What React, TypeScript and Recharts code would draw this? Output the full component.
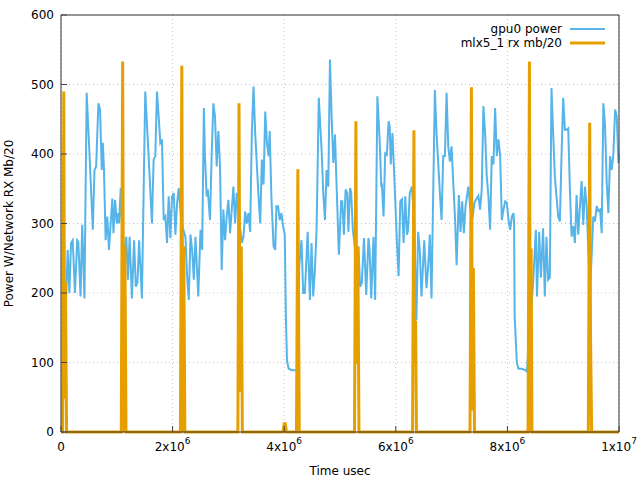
import React from 'react';
import { LineChart, Line, XAxis, YAxis, CartesianGrid, Legend } from 'recharts';

const FONT = '"DejaVu Sans", sans-serif';
const BLUE = '#56b4e9';
const ORANGE = '#e69f00';

// sample times are in units of 1e6 usec
const gpuTime = [
  0.00, 0.05, 0.12, 0.15, 0.18, 0.21, 0.25, 0.29, 0.31, 0.35, 0.38, 0.42, 0.46, 0.51, 0.57, 0.60,
  0.63, 0.67, 0.70, 0.73, 0.75, 0.77, 0.80, 0.83, 0.86, 0.89, 0.92, 0.94, 0.97, 1.00, 1.02, 1.04,
  1.07, 1.08, 1.12, 1.17, 1.20, 1.23, 1.27, 1.31, 1.34, 1.37, 1.40, 1.45, 1.51, 1.57, 1.63, 1.66,
  1.69, 1.72, 1.75, 1.78, 1.81, 1.84, 1.87, 1.90, 1.93, 1.96, 1.99, 2.02, 2.05, 2.08, 2.11, 2.16,
  2.23, 2.26, 2.29, 2.32, 2.35, 2.38, 2.41, 2.46, 2.50, 2.53, 2.56, 2.58, 2.61, 2.63, 2.67, 2.70,
  2.73, 2.76, 2.79, 2.82, 2.85, 2.88, 2.91, 2.94, 2.97, 3.00, 3.03, 3.06, 3.09, 3.12, 3.15, 3.20,
  3.24, 3.27, 3.30, 3.33, 3.36, 3.39, 3.42, 3.45, 3.48, 3.54, 3.57, 3.60, 3.63, 3.66, 3.69, 3.72,
  3.74, 3.77, 3.81, 3.84, 3.86, 3.89, 3.92, 3.95, 3.98, 4.01, 4.03, 4.05, 4.08, 4.14, 4.23, 4.27,
  4.31, 4.34, 4.37, 4.42, 4.46, 4.49, 4.52, 4.55, 4.58, 4.62, 4.67, 4.70, 4.73, 4.76, 4.79, 4.82,
  4.85, 4.88, 4.91, 4.94, 4.98, 5.02, 5.04, 5.07, 5.10, 5.13, 5.15, 5.18, 5.20, 5.23, 5.29, 5.33,
  5.36, 5.39, 5.43, 5.47, 5.51, 5.53, 5.56, 5.60, 5.63, 5.67, 5.71, 5.74, 5.75, 5.78, 5.81, 5.84,
  5.87, 5.89, 5.91, 5.94, 5.96, 5.99, 6.02, 6.05, 6.08, 6.11, 6.14, 6.17, 6.20, 6.22, 6.25, 6.29,
  6.33, 6.37, 6.40, 6.43, 6.46, 6.51, 6.55, 6.58, 6.61, 6.64, 6.70, 6.73, 6.79, 6.82, 6.85, 6.88,
  6.91, 6.94, 6.97, 7.00, 7.03, 7.06, 7.09, 7.13, 7.16, 7.19, 7.22, 7.25, 7.30, 7.36, 7.41, 7.45,
  7.48, 7.51, 7.54, 7.57, 7.60, 7.63, 7.66, 7.69, 7.72, 7.75, 7.78, 7.81, 7.84, 7.87, 7.90, 7.93,
  7.96, 7.99, 8.02, 8.05, 8.08, 8.11, 8.12, 8.13, 8.17, 8.20, 8.26, 8.32, 8.35, 8.40, 8.46, 8.51,
  8.53, 8.57, 8.60, 8.64, 8.67, 8.70, 8.73, 8.76, 8.79, 8.82, 8.85, 8.91, 8.94, 8.97, 9.00, 9.03,
  9.06, 9.09, 9.12, 9.15, 9.18, 9.21, 9.24, 9.27, 9.30, 9.33, 9.36, 9.39, 9.42, 9.48, 9.54, 9.57,
  9.60, 9.63, 9.66, 9.69, 9.72, 9.75, 9.78, 9.81, 9.84, 9.87, 9.90, 9.93, 9.96, 9.99, 10.0,
];

const gpuPower = [
  87, 90, 262, 200, 272, 276, 200, 276, 274, 195, 298, 192, 488, 401, 291, 377,
  382, 473, 464, 377, 416, 378, 276, 310, 262, 300, 336, 286, 334, 300, 315, 300,
  351, 320, 250, 281, 219, 281, 192, 276, 209, 215, 276, 192, 490, 397, 300, 392,
  397, 490, 454, 416, 421, 305, 310, 272, 339, 279, 339, 344, 284, 329, 351, 300,
  281, 224, 190, 284, 262, 219, 281, 195, 291, 262, 466, 397, 339, 349, 305, 397,
  473, 454, 382, 433, 382, 233, 320, 276, 310, 334, 286, 320, 353, 300, 344, 300,
  272, 281, 317, 300, 315, 288, 430, 497, 430, 339, 300, 392, 356, 461, 416, 397,
  433, 339, 267, 262, 325, 325, 305, 315, 296, 284, 166, 103, 91, 89, 89, 240,
  276, 200, 200, 288, 190, 272, 195, 233, 291, 481, 406, 344, 305, 377, 353, 536,
  454, 387, 428, 352, 255, 332, 332, 284, 349, 344, 288, 351, 345, 291, 250, 267,
  209, 214, 279, 197, 279, 262, 192, 281, 190, 483, 421, 353, 358, 310, 401, 399,
  447, 440, 385, 430, 392, 334, 272, 224, 332, 335, 272, 339, 284, 290, 344, 353,
  300, 161, 288, 262, 195, 276, 207, 238, 284, 192, 492, 430, 344, 305, 397, 397,
  488, 411, 389, 411, 358, 310, 240, 341, 288, 332, 286, 325, 353, 300, 330, 336,
  340, 320, 349, 469, 430, 368, 339, 291, 397, 385, 466, 397, 421, 397, 305, 320,
  332, 330, 305, 291, 310, 315, 300, 166, 99, 91, 91, 89, 87, 150, 214, 291,
  195, 288, 222, 293, 195, 281, 219, 222, 495, 430, 368, 310, 303, 397, 481, 435,
  435, 437, 349, 281, 296, 272, 341, 284, 325, 361, 298, 353, 325, 200, 310, 303,
  325, 318, 320, 286, 473, 440, 358, 315, 397, 377, 401, 464, 454, 387, 400,
];

const rxTime = [
  0, 0.03, 0.05, 0.065, 0.08, 0.10,
  1.08, 1.105, 1.125, 1.145, 1.165,
  2.14, 2.165, 2.185, 2.20, 2.22,
  3.17, 3.19, 3.21, 3.23, 3.25,
  3.98, 4.00, 4.02, 4.04,
  4.22, 4.245, 4.27,
  5.26, 5.285, 5.30, 5.32, 5.34,
  6.30, 6.325, 6.34, 6.355, 6.37,
  7.33, 7.355, 7.37, 7.39, 7.41,
  8.37, 8.395, 8.41, 8.425, 8.44,
  9.45, 9.475, 9.49, 9.51,
  10.0,
];

const rxMb20 = [
  0, 0, 490, 48, 216, 0,
  0, 533, 0, 267, 0,
  0, 527, 0, 267, 0,
  0, 473, 58, 267, 0,
  0, 12, 12, 0,
  0, 378, 0,
  0, 447, 98, 267, 0,
  0, 434, 100, 160, 0,
  0, 496, 31, 236, 0,
  0, 533, 0, 264, 0,
  0, 445, 137, 0,
  0,
];

const xTicks = [0, 2e6, 4e6, 6e6, 8e6, 1e7];
const yTicks = [0, 100, 200, 300, 400, 500, 600];

const seriesNames = ['gpu0 power', 'mlx5_1 rx mb/20'];

const gpuRows = gpuTime.map((t, i) => ({ t: t * 1e6, power: gpuPower[i] }));
const rxRows = rxTime.map((t, i) => ({ t: t * 1e6, rx: rxMb20[i] }));

const TICK_LEN = 6;
const TICK_COLOR = '#444';

const BottomTick = ({ x, y, payload }: any) => {
  const v: number = payload.value;
  let label: React.ReactNode = '0';
  if (v !== 0) {
    const exp = Math.floor(Math.log10(v) + 1e-9);
    const mant = Math.round(v / Math.pow(10, exp));
    label = (
      <>
        {mant}x10
        <tspan dy={-7} fontSize={9}>{exp}</tspan>
      </>
    );
  }
  return (
    <g>
      <line x1={x} x2={x} y1={y} y2={y - TICK_LEN} stroke={TICK_COLOR} />
      <text x={x} y={y + 19} textAnchor="middle" fontFamily={FONT} fontSize={12} fill="#000">
        {label}
      </text>
    </g>
  );
};

const TopTick = ({ x, y }: any) => (
  <line x1={x} x2={x} y1={y} y2={y + TICK_LEN} stroke={TICK_COLOR} />
);

const LeftTick = ({ x, y, payload }: any) => (
  <g>
    <line x1={x} x2={x + TICK_LEN} y1={y} y2={y} stroke={TICK_COLOR} />
    <text x={x - 7} y={y + 4} textAnchor="end" fontFamily={FONT} fontSize={12} fill="#000">
      {payload.value}
    </text>
  </g>
);

const RightTick = ({ x, y }: any) => (
  <line x1={x} x2={x - TICK_LEN} y1={y} y2={y} stroke={TICK_COLOR} />
);

const LegendBox = () => (
  <div style={{ fontFamily: FONT, fontSize: 12, color: '#000', lineHeight: '14px' }}>
    {seriesNames.map((name, i) => (
      <div key={name} style={{ display: 'flex', alignItems: 'center', justifyContent: 'flex-end', height: 14 }}>
        <span>{name}</span>
        <svg width={43} height={14} style={{ display: 'block' }}>
          <line x1={8} x2={43} y1={7} y2={7} stroke={i === 0 ? BLUE : ORANGE} strokeWidth={i === 0 ? 2 : 3} />
        </svg>
      </div>
    ))}
  </div>
);

export default function App() {
  return (
    <div style={{ position: 'absolute', left: 0, top: 0, width: 640, height: 480, background: '#fff' }}>
      <LineChart width={640} height={480} margin={{ top: 0, right: 0, bottom: 0, left: 0 }}>
        <CartesianGrid
          xAxisId="b"
          yAxisId="l"
          stroke="#c4c4c4"
          strokeDasharray="1 3"
        />
        <XAxis
          xAxisId="b"
          dataKey="t"
          type="number"
          domain={[0, 1e7]}
          ticks={xTicks}
          interval={0}
          height={48}
          tickSize={0}
          tickMargin={0}
          tickLine={false}
          axisLine={{ stroke: '#333' }}
          tick={<BottomTick />}
          label={(props: any) => {
            const vb = props.viewBox;
            return (
              <text x={vb.x + vb.width / 2} y={vb.y + 43} textAnchor="middle" fontFamily={FONT} fontSize={12} fill="#000">
                Time usec
              </text>
            );
          }}
        />
        <XAxis
          xAxisId="t"
          orientation="top"
          type="number"
          domain={[0, 1e7]}
          ticks={xTicks}
          interval={0}
          height={15}
          tickSize={0}
          tickMargin={0}
          tickLine={false}
          axisLine={{ stroke: '#333' }}
          tick={<TopTick />}
        />
        <YAxis
          yAxisId="l"
          type="number"
          domain={[0, 600]}
          ticks={yTicks}
          interval={0}
          width={61}
          tickSize={0}
          tickMargin={0}
          tickLine={false}
          axisLine={{ stroke: '#333' }}
          tick={<LeftTick />}
          label={(props: any) => {
            const vb = props.viewBox;
            const cx = vb.x + vb.width - 48;
            const cy = vb.y + vb.height / 2;
            return (
              <text x={cx} y={cy} transform={`rotate(-90 ${cx} ${cy})`} textAnchor="middle" fontFamily={FONT} fontSize={12} fill="#000">
                Power W/Network RX Mb/20
              </text>
            );
          }}
        />
        <YAxis
          yAxisId="r"
          orientation="right"
          type="number"
          domain={[0, 600]}
          ticks={yTicks}
          interval={0}
          width={21}
          tickSize={0}
          tickMargin={0}
          tickLine={false}
          axisLine={{ stroke: '#333' }}
          tick={<RightTick />}
        />
        <Legend
          layout="horizontal"
          align="center"
          verticalAlign="middle"
          content={<LegendBox />}
          wrapperStyle={{ top: 22, right: 35, left: 'auto', width: 'auto', height: 'auto' }}
        />
        <Line
          xAxisId="b"
          yAxisId="l"
          data={gpuRows}
          dataKey="power"
          name={seriesNames[0]}
          type="linear"
          stroke={BLUE}
          strokeWidth={2}
          dot={false}
          isAnimationActive={false}
        />
        <Line
          xAxisId="b"
          yAxisId="l"
          data={rxRows}
          dataKey="rx"
          name={seriesNames[1]}
          type="linear"
          stroke={ORANGE}
          strokeWidth={3}
          dot={false}
          isAnimationActive={false}
        />
      </LineChart>
    </div>
  );
}
